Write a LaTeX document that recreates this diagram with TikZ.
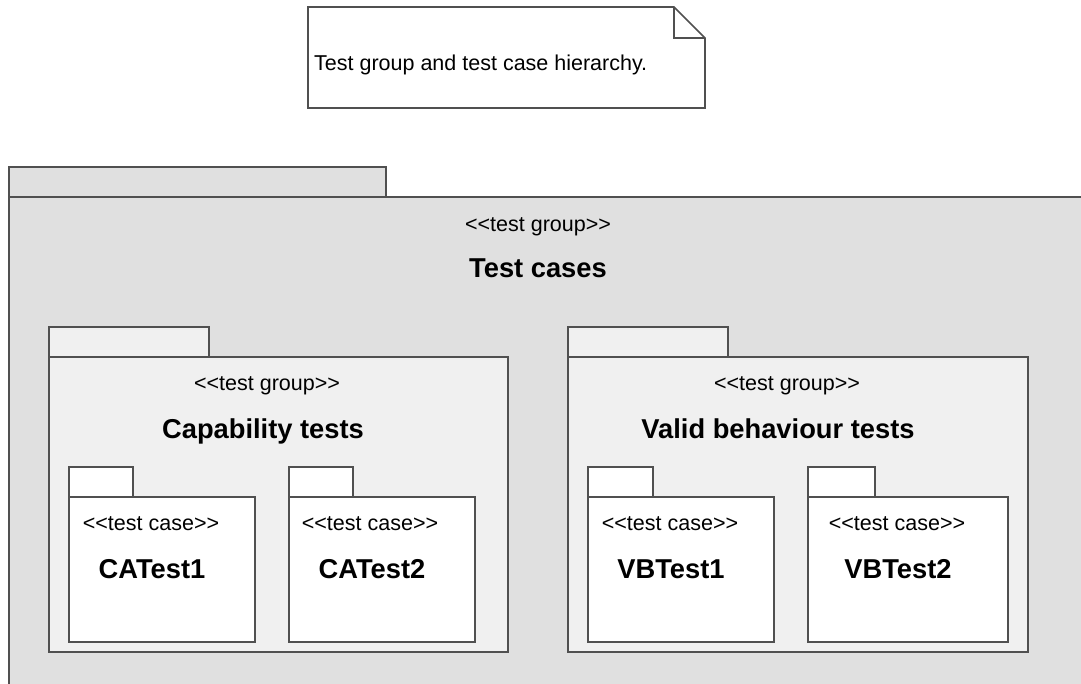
\documentclass[tikz,border=0pt]{standalone}
\usepackage{fontspec}
\setmainfont{Liberation Sans}
\usetikzlibrary{positioning}
\definecolor{pkgline}{HTML}{505050}
\definecolor{outerfill}{HTML}{E0E0E0}
\definecolor{groupfill}{HTML}{F0F0F0}
% keep << and >> from turning into guillemets
\newcommand{\stopen}{<\kern0pt<}
\newcommand{\stclose}{>\kern0pt>}
\tikzset{
  pkg/.style={draw=pkgline,line width=1.6pt,inner sep=0pt,outer sep=0pt,anchor=north west},
  pkgtab/.style={pkg,anchor=south west,minimum height=30pt},
  stereo/.style={font=\fontsize{21.5}{25}\selectfont,inner sep=0pt,anchor=base},
  pkgname/.style={font=\fontsize{27.3}{32}\selectfont\bfseries,inner sep=0pt,anchor=base},
}

\begin{document}
\begin{tikzpicture}[x=1pt,y=-1pt]
  \useasboundingbox (0,0) rectangle (1081,684);
  \clip (0,0) rectangle (1081,684);

  % note
  \node[inner sep=0pt,outer sep=0pt,anchor=north west,minimum width=397pt,minimum height=101pt] (note) at (308,7) {};
  \draw[pkgline,line width=1.6pt,fill=white]
    (note.north west) -- ([xshift=-31pt]note.north east) -- ([yshift=-31pt]note.north east)
    -- (note.south east) -- (note.south west) -- cycle;
  \draw[pkgline,line width=1.6pt]
    ([xshift=-31pt]note.north east) |- ([yshift=-31pt]note.north east);
  \node[font=\fontsize{21.5}{25}\selectfont,inner sep=0pt,anchor=base west] (notetext) at (314,71) {Test group and test case hierarchy.};

  % outer group
  \node[pkg,fill=outerfill,minimum width=1100pt,minimum height=520pt] (testcases) at (9,197) {};
  \node[pkgtab,fill=outerfill,minimum width=377pt] (testcasestab) at (testcases.north west) {};
  \node[stereo] (testcasesster) at (538,232) {\stopen test group\stclose};
  \node[pkgname] (testcasesname) at (538,278) {Test cases};

  % capability tests
  \node[pkg,fill=groupfill,minimum width=459pt,minimum height=295pt] (capability) at (49,357) {};
  \node[pkgtab,fill=groupfill,minimum width=160pt] (capabilitytab) at (capability.north west) {};
  \node[stereo] (capabilityster) at (267,390) {\stopen test group\stclose};
  \node[pkgname] (capabilityname) at (263,438) {Capability tests};

  \node[pkg,fill=white,minimum width=186pt,minimum height=145pt] (catest1) at (69,497) {};
  \node[pkgtab,fill=white,minimum width=64pt] (catest1tab) at (catest1.north west) {};
  \node[stereo] (catest1ster) at (151,530) {\stopen test case\stclose};
  \node[pkgname] (catest1name) at (152,578) {CATest1};

  \node[pkg,fill=white,minimum width=186pt,minimum height=145pt] (catest2) at (289,497) {};
  \node[pkgtab,fill=white,minimum width=64pt] (catest2tab) at (catest2.north west) {};
  \node[stereo] (catest2ster) at (370,530) {\stopen test case\stclose};
  \node[pkgname] (catest2name) at (372,578) {CATest2};

  % valid behaviour tests
  \node[pkg,fill=groupfill,minimum width=460pt,minimum height=295pt] (validbeh) at (568,357) {};
  \node[pkgtab,fill=groupfill,minimum width=160pt] (validbehtab) at (validbeh.north west) {};
  \node[stereo] (validbehster) at (787,390) {\stopen test group\stclose};
  \node[pkgname] (validbehname) at (778,438) {Valid behaviour tests};

  \node[pkg,fill=white,minimum width=186pt,minimum height=145pt] (vbtest1) at (588,497) {};
  \node[pkgtab,fill=white,minimum width=65pt] (vbtest1tab) at (vbtest1.north west) {};
  \node[stereo] (vbtest1ster) at (670,530) {\stopen test case\stclose};
  \node[pkgname] (vbtest1name) at (671,578) {VBTest1};

  \node[pkg,fill=white,minimum width=200pt,minimum height=145pt] (vbtest2) at (808,497) {};
  \node[pkgtab,fill=white,minimum width=67pt] (vbtest2tab) at (vbtest2.north west) {};
  \node[stereo] (vbtest2ster) at (897,530) {\stopen test case\stclose};
  \node[pkgname] (vbtest2name) at (898,578) {VBTest2};
\end{tikzpicture}
\end{document}
